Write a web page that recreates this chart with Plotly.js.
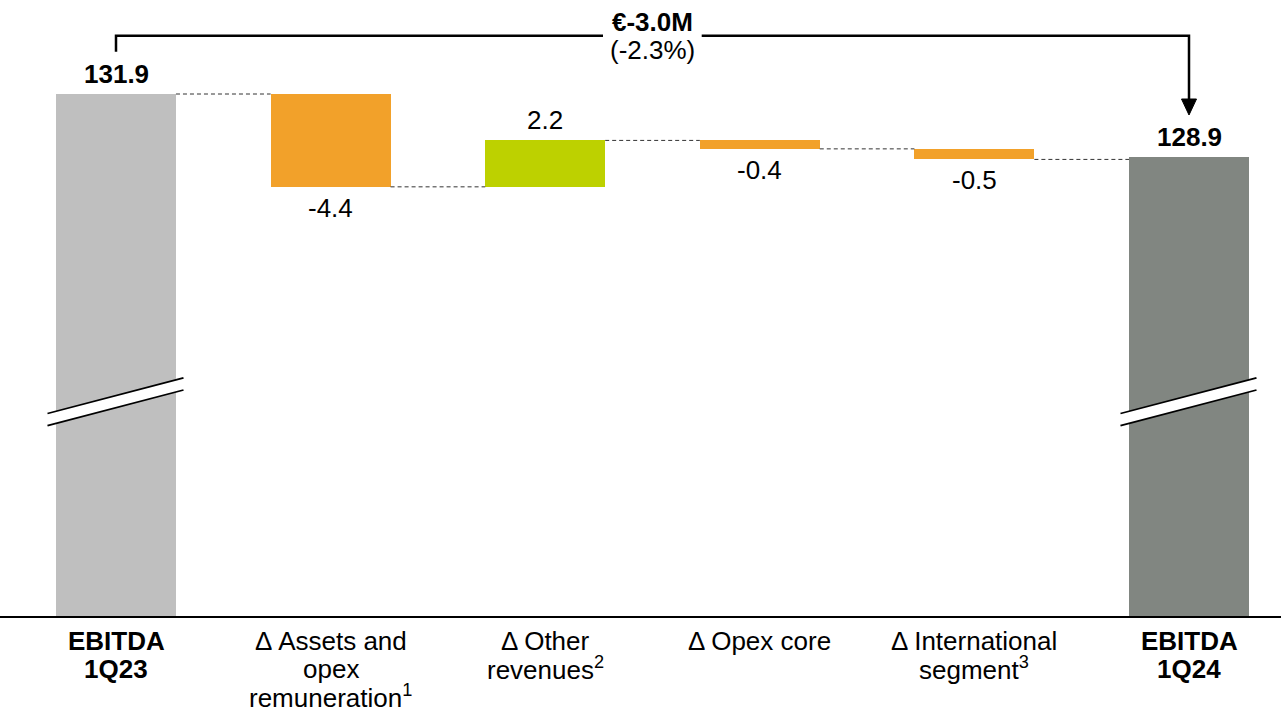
<!DOCTYPE html>
<html>
<head>
<meta charset="utf-8">
<script src="https://cdn.plot.ly/plotly-3.0.1.min.js"></script>
<style>html,body{margin:0;padding:0;background:#fff;}#chart{width:1281px;height:711px;}</style>
</head>
<body>
<div id="chart"></div>
<script>
// ---- data ----
const categories = ["EBITDA<br>1Q23", "Δ Assets and<br>opex<br>remuneration<sup>1</sup>", "Δ Other<br>revenues<sup>2</sup>", "Δ Opex core", "Δ International<br>segment<sup>3</sup>", "EBITDA<br>1Q24"];
const measures = ["total", "relative", "relative", "relative", "relative", "total"];
const values = [131.9, -4.4, 2.2, -0.4, -0.5, 128.9];
const changeLabel = "€-3.0M";
const changePct = "(-2.3%)";
const colors = ["#BFBFBF", "#F2A12A", "#BDD100", "#F2A12A", "#F2A12A", "#818681"];

// ---- layout helpers ----
const W = 1281, H = 711, plotBottom = 616;
const py = p => 1 - p / plotBottom; // pixel row -> paper y
const FONT = "Liberation Sans, Arial, sans-serif";
const FS = 26;

// compute bases / ends
const xs = values.map((v, i) => i);
const bases = [], ends = [];
let cum = 0;
values.forEach((v, i) => {
  if (measures[i] === "total") { bases.push(0); cum = v; ends.push(v); }
  else { bases.push(cum); cum = cum + v; ends.push(cum); }
});

const barW = 0.559;
const traces = [{
  type: "bar", x: xs, y: values.map((v, i) => v), base: bases,
  width: barW, marker: {color: colors, line: {width: 0}},
  hoverinfo: "skip", showlegend: false
}];

// connectors
const cx = [], cy = [];
for (let i = 0; i < values.length - 1; i++) {
  cx.push(i + barW / 2, i + 1 - barW / 2, null);
  cy.push(ends[i], ends[i], null);
}
traces.push({type: "scatter", mode: "lines", x: cx, y: cy, line: {color: "#333333", width: 1, dash: "4px,3px"}, hoverinfo: "skip", showlegend: false});

const annotations = [];
// value labels
values.forEach((v, i) => {
  const isTotal = measures[i] === "total";
  const up = isTotal || v >= 0;
  const yEdge = ends[i];
  const txt = v.toFixed(1);
  annotations.push({
    x: i, y: yEdge, xref: "x", yref: "y", showarrow: false,
    text: isTotal ? "<b>" + txt + "</b>" : txt,
    yanchor: "middle", xanchor: "center", yshift: up ? 20 : -21,
    font: {family: FONT, size: FS, color: "#000"}
  });
});
// category labels (line by line)
categories.forEach((c, i) => {
  const bold = measures[i] === "total";
  c.split("<br>").forEach((line, k) => {
    annotations.push({
      x: i, y: py(641 + 27.8 * k), xref: "x", yref: "paper", showarrow: false,
      text: bold ? "<b>" + line + "</b>" : line,
      yanchor: "middle", xanchor: "center",
      font: {family: FONT, size: FS, color: "#000"}
    });
  });
});
// headline
const first = 0, last = values.length - 1;
const midX = (first + last) / 2;
annotations.push({x: midX, y: py(22.5), xref: "x", yref: "paper", showarrow: false, text: "<b>" + changeLabel + "</b>", yanchor: "middle", font: {family: FONT, size: FS, color: "#000"}});
annotations.push({x: midX, y: py(50), xref: "x", yref: "paper", showarrow: false, text: changePct, yanchor: "middle", font: {family: FONT, size: FS, color: "#000"}});

// shapes
const pxu = 214.6;
const shapes = [];
const lineY = 35.7;
const gapL = (603 - 116) / pxu, gapR = (701.7 - 116) / pxu;
shapes.push({type: "path", xref: "x", yref: "paper", path: `M ${first},${py(51.7)} L ${first},${py(lineY)} L ${gapL},${py(lineY)}`, line: {color: "#000", width: 2.5}});
shapes.push({type: "path", xref: "x", yref: "paper", path: `M ${gapR},${py(lineY)} L ${last},${py(lineY)} L ${last},${py(101)}`, line: {color: "#000", width: 2.5}});
const hw = 7.5 / pxu;
shapes.push({type: "path", xref: "x", yref: "paper", path: `M ${last - hw},${py(99)} L ${last + hw},${py(99)} L ${last},${py(115)} Z`, fillcolor: "#000", line: {color: "#000", width: 1}});

// axis break marks on totals
[first, last].forEach(i => {
  const xl = i - 68.5 / pxu, xr = i + 67.5 / pxu;
  shapes.push({type: "path", xref: "x", yref: "paper", path: `M ${xl},${py(413.5)} L ${xr},${py(377.8)} L ${xr},${py(390)} L ${xl},${py(425.7)} Z`, fillcolor: "#fff", line: {width: 0}});
  shapes.push({type: "line", xref: "x", yref: "paper", x0: xl, x1: xr, y0: py(413.5), y1: py(377.8), line: {color: "#000", width: 1.8}});
  shapes.push({type: "line", xref: "x", yref: "paper", x0: xl, x1: xr, y0: py(425.7), y1: py(390), line: {color: "#000", width: 1.8}});
});

const layout = {
  width: W, height: H,
  margin: {l: 0, r: 0, t: 0, b: H - plotBottom, pad: 0},
  paper_bgcolor: "#fff", plot_bgcolor: "#fff",
  xaxis: {range: [-116 / pxu, -116 / pxu + W / pxu], showticklabels: false, ticks: "", showgrid: false, zeroline: false, showline: true, linecolor: "#000", linewidth: 2, fixedrange: true},
  yaxis: {range: [131.9 - (plotBottom - 94) / 21.1, 131.9 + 94 / 21.1], visible: false, showgrid: false, zeroline: false, fixedrange: true},
  bargap: 0,
  annotations: annotations,
  shapes: shapes,
  font: {family: FONT, size: FS, color: "#000"}
};

Plotly.newPlot("chart", traces, layout, {displayModeBar: false, staticPlot: true});
</script>
</body>
</html>
